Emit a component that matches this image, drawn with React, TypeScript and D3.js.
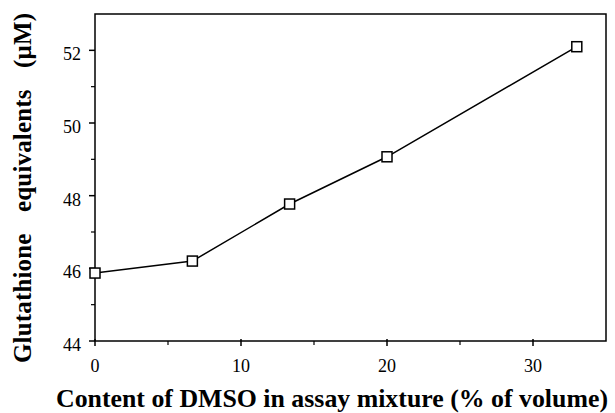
import React, { useEffect, useState } from "react";
import * as d3 from "d3";

const dmso = [0, 6.67, 13.33, 20, 33];
const gsh = [45.87, 46.2, 47.77, 49.07, 52.1];
const xMajor = [0, 10, 20, 30];
const xMinor = [5, 15, 25];
const yMajor = [44, 46, 48, 50, 52];
const yMinor = [45, 47, 49, 51];

const W = 615, H = 413;
const L = 95, R = 606, T = 14, B = 341;
const FONT = "'Liberation Serif'";

export default function App() {
  const [tick, setTick] = useState(0);
  useEffect(() => {
    const fs: any = (document as any).fonts;
    if (fs && fs.load) {
      Promise.all([
        fs.load("18px 'Liberation Serif'"),
        fs.load("bold 25px 'Liberation Serif'"),
      ])
        .then(() => setTick((t) => t + 1))
        .catch(() => setTick((t) => t + 1));
    }
  }, []);
  const x = d3.scaleLinear().domain([0, 35]).range([L, R]);
  const y = d3.scaleLinear().domain([44, 53]).range([B, T]);
  const pts = dmso.map((d, i) => [x(d), y(gsh[i])] as [number, number]);
  const line = d3.line()(pts) || "";
  const ts = { fontFamily: FONT, fontSize: 18 } as React.CSSProperties;
  return (
    <svg key={tick} width={W} height={H} style={{ position: "absolute", left: 0, top: 0, background: "#fff" }}>
      <rect x={L} y={T} width={R - L} height={B - T} fill="none" stroke="#000" strokeWidth={1.5} />
      {xMajor.map((v) => (
        <g key={"xm" + v}>
          <line x1={x(v)} x2={x(v)} y1={B - 2} y2={B + 5} stroke="#000" strokeWidth={1.5} />
          <text x={x(v)} y={B + 31} textAnchor="middle" style={ts}>{v}</text>
        </g>
      ))}
      {xMinor.map((v) => (
        <line key={"xn" + v} x1={x(v)} x2={x(v)} y1={B} y2={B + 4} stroke="#000" strokeWidth={1.2} />
      ))}
      {yMajor.map((v) => (
        <g key={"ym" + v}>
          <line x1={L - 6} x2={L} y1={y(v)} y2={y(v)} stroke="#000" strokeWidth={1.5} />
          <text x={L - 14} y={y(v) + 10} textAnchor="end" style={ts}>{v}</text>
        </g>
      ))}
      {yMinor.map((v) => (
        <line key={"yn" + v} x1={L - 4} x2={L} y1={y(v)} y2={y(v)} stroke="#000" strokeWidth={1.2} />
      ))}
      <path d={line} fill="none" stroke="#000" strokeWidth={1.5} />
      {pts.map(([px, py], i) => (
        <rect key={i} x={px - 5} y={py - 5} width={10} height={10} fill="#fff" stroke="#000" strokeWidth={1.5} />
      ))}
      <text
        transform={`translate(31, 188) rotate(-90)`}
        textAnchor="middle"
        textLength={350}
        lengthAdjust="spacing"
        style={{ fontFamily: FONT, fontWeight: "bold", fontSize: 25, wordSpacing: 15 }}
      >
        Glutathione equivalents (μM)
      </text>
      <text
        x={332}
        y={407}
        textAnchor="middle"
        textLength={552}
        lengthAdjust="spacingAndGlyphs"
        style={{ fontFamily: FONT, fontWeight: "bold", fontSize: 25.8 }}
      >
        Content of DMSO in assay mixture (% of volume)
      </text>
    </svg>
  );
}
